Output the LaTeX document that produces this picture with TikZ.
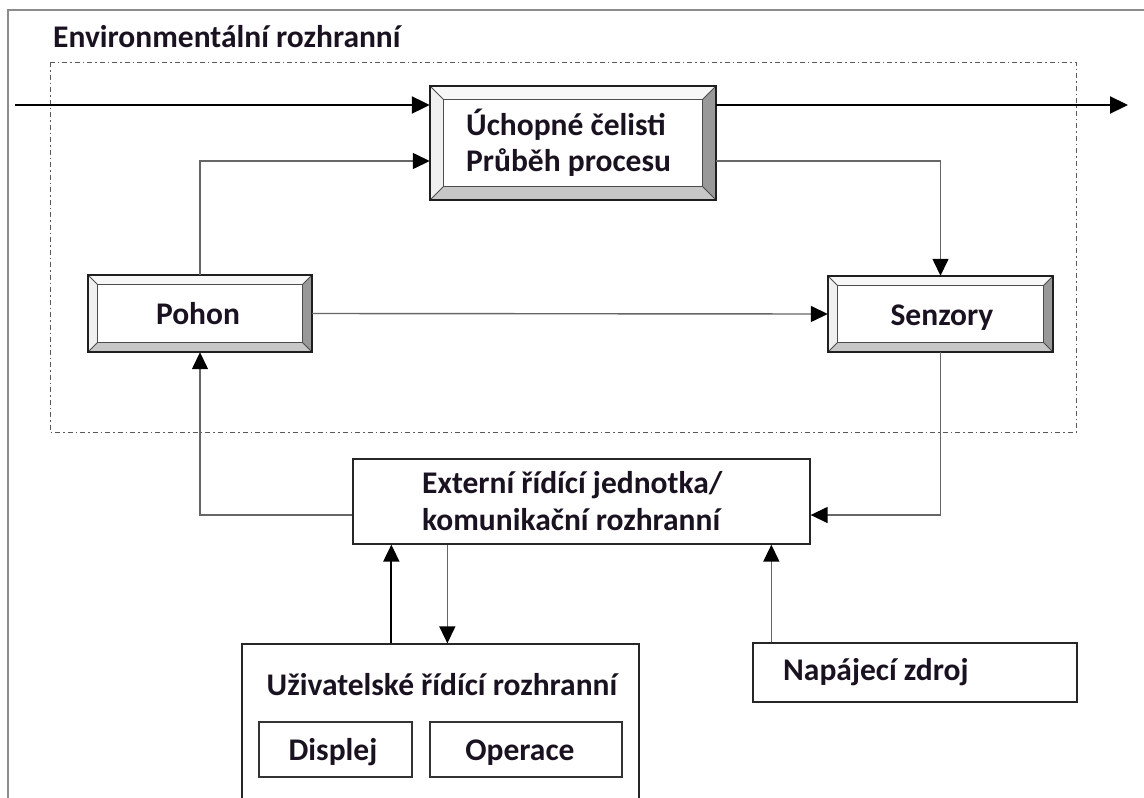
\documentclass[tikz,border=0pt]{standalone}
\usepackage{fontspec}
\setmainfont{Carlito}
\usetikzlibrary{arrows.meta,calc}
\definecolor{txt}{HTML}{1A1220}
\tikzset{
  every node/.style={font=\bfseries\fontsize{31.5}{37}\selectfont, text=txt},
  bev/.style={rectangle, fill=white, draw=none, inner sep=0pt},
  plainbox/.style={rectangle, draw=black!85, line width=1.3pt, fill=white, inner sep=0pt},
  conn/.style={draw=black!60, line width=1.4pt, -{Triangle[length=17pt,width=16pt,color=black]}},
  mainconn/.style={draw=black, line width=2.2pt, -{Triangle[length=18pt,width=17pt]}},
  darkconn/.style={draw=black, line width=2pt, -{Triangle[length=17pt,width=16pt]}},
  lbl/.style={inner sep=0pt, anchor=base}
}
\newcommand{\bevfaces}[2]{%
  \fill[black!3] (#1.north west) -- (#1.north east) -- ($(#1.north east)+(-#2,#2)$) -- ($(#1.north west)+(#2,#2)$) -- cycle;
  \fill[black!6] (#1.north west) -- ($(#1.north west)+(#2,#2)$) -- ($(#1.south west)+(#2,-#2)$) -- (#1.south west) -- cycle;
  \fill[black!40] (#1.north east) -- (#1.south east) -- ($(#1.south east)+(-#2,-#2)$) -- ($(#1.north east)+(-#2,#2)$) -- cycle;
  \fill[black!22] (#1.south west) -- (#1.south east) -- ($(#1.south east)+(-#2,-#2)$) -- ($(#1.south west)+(#2,-#2)$) -- cycle;
  \draw[black!70, line width=0.8pt] ($(#1.north west)+(#2,#2)$) rectangle ($(#1.south east)+(-#2,-#2)$);
  \draw[black!70, line width=0.8pt] (#1.north west) -- ($(#1.north west)+(#2,#2)$)
     (#1.north east) -- ($(#1.north east)+(-#2,#2)$)
     (#1.south west) -- ($(#1.south west)+(#2,-#2)$)
     (#1.south east) -- ($(#1.south east)+(-#2,-#2)$);
  \draw[black!88, line width=1.6pt] (#1.north west) rectangle (#1.south east);
}
\begin{document}
\begin{tikzpicture}[x=1pt,y=-1pt]
\clip (0,0) rectangle (1144,798);
\fill[white] (0,0) rectangle (1144,798);
% outer frame
\draw[black!45, line width=2pt] (8,830) -- (8,10) -- (1160,10);
% title
\node[lbl, anchor=base west] (title) at (53,47) {Environmentální rozhranní};
% dashed environment box
\draw[black!65, line width=1pt, dash pattern=on 5pt off 3pt on 1.5pt off 3pt] (50,62) rectangle (1076,432);

% beveled boxes
\node[bev, minimum width=286pt, minimum height=114pt] (grip) at (573,143) {};
\node[bev, minimum width=224pt, minimum height=77pt] (pohon) at (200,313.5) {};
\node[bev, minimum width=225pt, minimum height=76pt] (senz) at (940.5,314) {};
\bevfaces{grip}{14}
\bevfaces{pohon}{10}
\bevfaces{senz}{10}
\node[lbl, anchor=base west] (griptxt1) at (466,135) {Úchopné čelisti};
\node[lbl, anchor=base west] (griptxt2) at (466,171) {Průběh procesu};
\node[lbl] (pohontxt) at (198,324) {Pohon};
\node[lbl] (senztxt) at (942,325) {Senzory};

% external control unit
\node[plainbox, minimum width=457pt, minimum height=85pt] (ext) at (581.5,501.5) {};
\node[lbl, anchor=base west] (exttxt1) at (422,493) {Externí řídící jednotka/};
\node[lbl, anchor=base west] (exttxt2) at (422,530) {komunikační rozhranní};

% user interface
\node[plainbox, minimum width=397pt, minimum height=180pt] (user) at (440.5,734) {};
\node[lbl] (usertxt) at (442,695) {Uživatelské řídící rozhranní};
\node[plainbox, draw=black!80, line width=1.1pt, minimum width=153pt, minimum height=55pt] (disp) at (335.5,749.5) {};
\node[plainbox, draw=black!80, line width=1.1pt, minimum width=192pt, minimum height=55pt] (oper) at (526,749.5) {};
\node[lbl] (disptxt) at (333,760) {Displej};
\node[lbl] (opertxt) at (520,760) {Operace};

% power supply
\node[plainbox, minimum width=324pt, minimum height=59pt] (napa) at (915,672.5) {};
\node[lbl, anchor=base west] (napatxt) at (783,680) {Napájecí zdroj};

% connectors
\coordinate (inL) at (15,105);
\coordinate (outR) at (1128,105);
\draw[mainconn] (inL) -- (grip.west |- inL);
\draw[mainconn] (grip.east |- inL) -- (outR);
\draw[conn] (pohon.north) |- ($(grip.west)+(0,18)$);
\draw[conn] ($(grip.east)+(0,18)$) -| (senz.north);
\draw[conn] (pohon.east) -- (senz.west);
\draw[conn] (senz.south) |- ($(ext.east)+(0,13.5)$);
\draw[conn] ($(ext.west)+(0,13.5)$) -| (pohon.south);
\coordinate (up1) at ($(ext.south west)+(39,0)$);
\coordinate (dn1) at ($(ext.south west)+(95,0)$);
\coordinate (pw) at ($(napa.north west)+(19,0)$);
\draw[darkconn] (user.north -| up1) -- (up1);
\draw[conn] (dn1) -- (user.north -| dn1);
\draw[conn] (pw) -- (ext.south -| pw);
\end{tikzpicture}
\end{document}
